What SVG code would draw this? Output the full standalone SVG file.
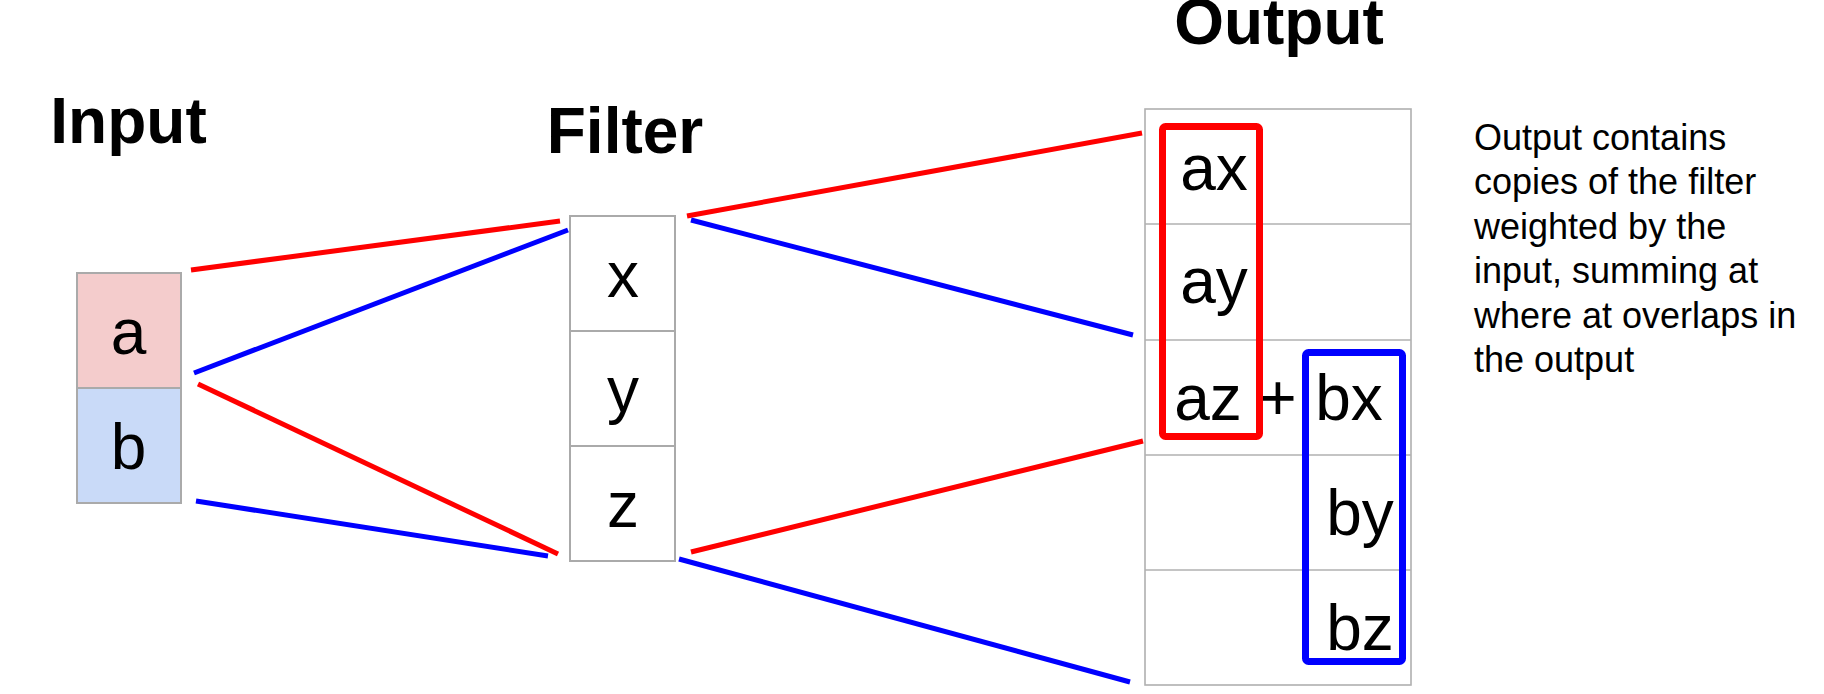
<svg xmlns="http://www.w3.org/2000/svg" width="1824" height="694" viewBox="0 0 1824 694">
<style>
.title{font-family:"Liberation Sans",Arial,sans-serif;font-weight:bold;font-size:64px;fill:#000;text-anchor:middle}
.cell{font-family:"Liberation Sans",Arial,sans-serif;font-size:64px;fill:#000;text-anchor:middle}
.note{font-family:"Liberation Sans",Arial,sans-serif;font-size:36px;fill:#000}
.box{stroke:#aaaaaa;stroke-width:2}
.grid{fill:none;stroke:#b0b0b0;stroke-width:1.6}
.red{stroke:#ff0000;stroke-width:5;fill:none}
.blue{stroke:#0000ff;stroke-width:5;fill:none}
.hl-red{fill:none;stroke:#ff0000;stroke-width:7}
.hl-blue{fill:none;stroke:#0000ff;stroke-width:7}
</style>
<rect width="1824" height="694" fill="#fff"/>
<g id="connectors">
<line class="red" x1="191" y1="270" x2="560" y2="221"/>
<line class="blue" x1="194" y1="373" x2="568" y2="230"/>
<line class="red" x1="198" y1="384" x2="558" y2="554"/>
<line class="blue" x1="196" y1="501" x2="548" y2="556"/>
<line class="red" x1="687" y1="216" x2="1142" y2="133"/>
<line class="blue" x1="691" y1="220" x2="1133" y2="335"/>
<line class="red" x1="691" y1="552" x2="1143" y2="441"/>
<line class="blue" x1="679" y1="559" x2="1130" y2="682"/>
</g>
<g id="input">
<text class="title" x="128.5" y="143">Input</text>
<rect class="box" x="77" y="273" width="104" height="115" fill="#f4cccc"/>
<rect class="box" x="77" y="388" width="104" height="115" fill="#c9daf8"/>
<text class="cell" x="128.5" y="354">a</text>
<text class="cell" x="128.5" y="469">b</text>
</g>
<g id="filter">
<text class="title" x="625" y="153">Filter</text>
<rect class="box" x="570" y="216" width="105" height="115" fill="#fff"/>
<rect class="box" x="570" y="331" width="105" height="115" fill="#fff"/>
<rect class="box" x="570" y="446" width="105" height="115" fill="#fff"/>
<text class="cell" x="623" y="297">x</text>
<text class="cell" x="623" y="412">y</text>
<text class="cell" x="623" y="527">z</text>
</g>
<g id="output">
<text class="title" x="1279" y="44">Output</text>
<rect class="grid" x="1145" y="109" width="266" height="576"/>
<line class="grid" x1="1145" y1="224" x2="1411" y2="224"/>
<line class="grid" x1="1145" y1="340" x2="1411" y2="340"/>
<line class="grid" x1="1145" y1="455" x2="1411" y2="455"/>
<line class="grid" x1="1145" y1="570" x2="1411" y2="570"/>
<text class="cell" x="1214" y="190">ax</text>
<text class="cell" x="1214" y="303">ay</text>
<text class="cell" x="1208" y="420">az</text>
<text class="cell" x="1278" y="420">+</text>
<text class="cell" x="1349" y="420">bx</text>
<text class="cell" x="1360" y="535">by</text>
<text class="cell" x="1360" y="650">bz</text>
<rect id="a-copy" class="hl-red" x="1162.5" y="126.5" width="97" height="310" rx="3"/>
<rect id="b-copy" class="hl-blue" x="1305.5" y="352.5" width="97" height="309" rx="3"/>
</g>
<g id="note">
<text class="note" x="1474" y="150">Output contains</text>
<text class="note" x="1474" y="194">copies of the filter</text>
<text class="note" x="1474" y="239">weighted by the</text>
<text class="note" x="1474" y="283">input, summing at</text>
<text class="note" x="1474" y="328">where at overlaps in</text>
<text class="note" x="1474" y="372">the output</text>
</g>
</svg>
